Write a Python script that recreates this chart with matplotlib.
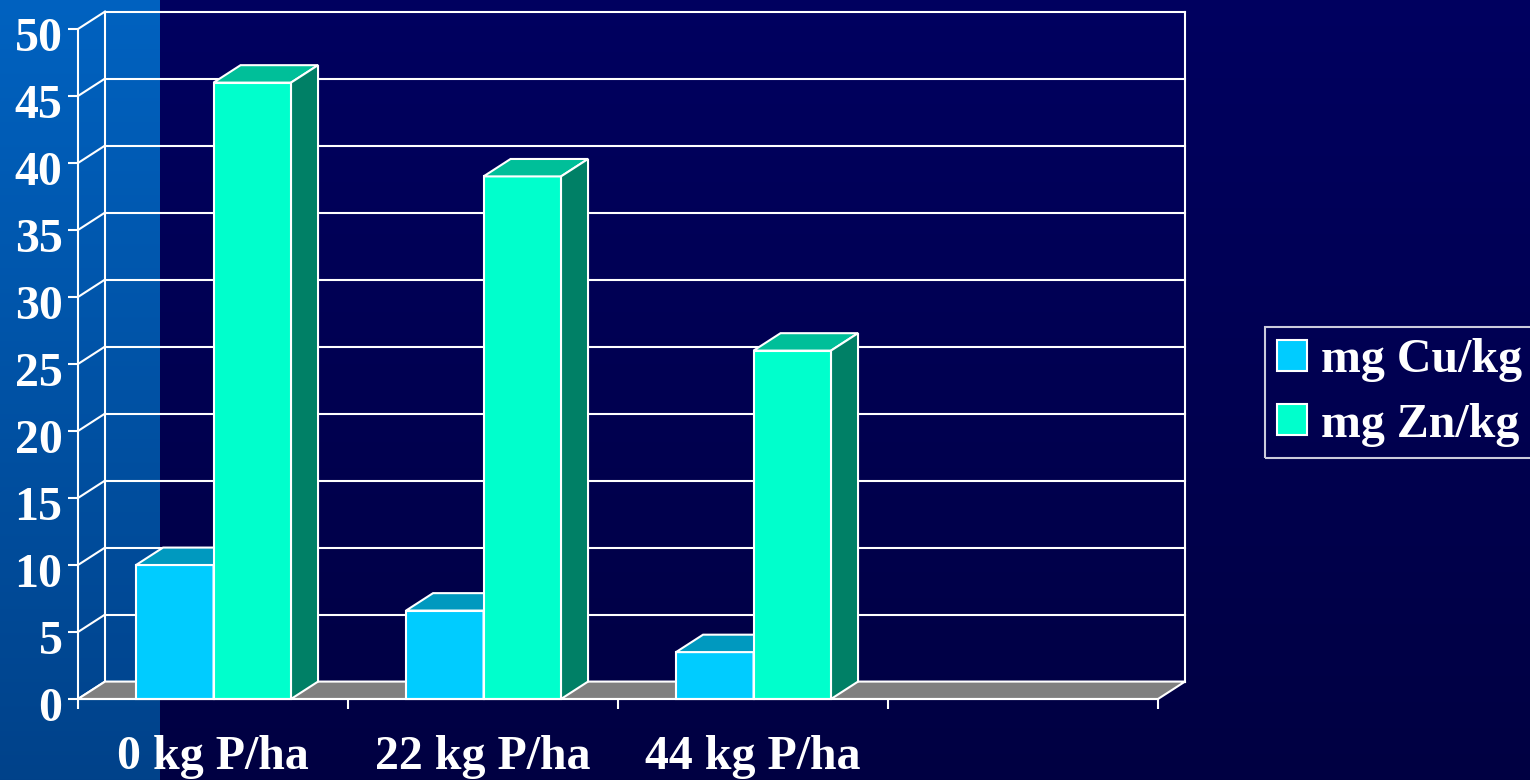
import numpy as np
import matplotlib.pyplot as plt
from matplotlib.patches import Patch
from matplotlib.transforms import ScaledTranslation

# soil micronutrient content by phosphorus rate
categories = ['0 kg P/ha', '22 kg P/ha', '44 kg P/ha']
cu = [10, 6.6, 3.5]
zn = [46, 39, 26]
series_names = ['mg Cu/kg', 'mg Zn/kg']
yticks = list(range(0, 55, 5))

# layout of the pseudo-3D box (data units)
n_slots = 4            # category axis keeps an empty fourth slot
dx, dy = 0.1, 1.3      # depth offset of the back wall
bar_w = 0.287
first = 0.215

cu_cols = ('#00CCFF', '#0099BF', '#007A99')
zn_cols = ('#00FFCC', '#00BF99', '#008066')
lw = 1.5
fs = 34.5

plt.rcParams['font.family'] = ['Liberation Serif', 'DejaVu Serif']
plt.rcParams['font.weight'] = 'bold'

fig = plt.figure(figsize=(15.3, 7.8), dpi=100)

# background: lighter blue strip at the left, navy elsewhere
bg = fig.add_axes([0, 0, 1, 1], zorder=-10)
H, W = 780, 1530
t = np.linspace(0, 1, H)[:, None, None]
navy_top, navy_bot = np.array([0, 0, 96]), np.array([0, 0, 66])
blue_top, blue_bot = np.array([0, 98, 192]), np.array([0, 66, 138])
img = np.zeros((H, W, 3))
img[:] = (navy_top + (navy_bot - navy_top) * t) / 255
img[:, :160] = (blue_top + (blue_bot - blue_top) * t) / 255
bg.imshow(img, aspect='auto', extent=[0, 1, 0, 1])
bg.axis('off')

ax = fig.add_axes([78 / W, 81 / H, 1080 / W, 670 / H])
ax.set_xlim(0, n_slots)
ax.set_ylim(0, 50)
ax.patch.set_alpha(0)
for s in ['top', 'right']:
    ax.spines[s].set_visible(False)
for s in ['left', 'bottom']:
    ax.spines[s].set_color('white')
    ax.spines[s].set_linewidth(lw)
    ax.spines[s].set_zorder(6)

ax.set_yticks(yticks)
ax.set_yticklabels([str(v) for v in yticks])
ax.set_xticks(range(n_slots + 1))
ax.set_xticklabels([])
ax.tick_params(colors='white', width=lw, length=7.2, direction='out',
               labelsize=fs, pad=4)
shift = ScaledTranslation(0, -5 / 100, fig.dpi_scale_trans)
for lab in ax.get_yticklabels():
    lab.set_transform(lab.get_transform() + shift)

# back wall grid, side wall diagonals
for v in yticks:
    ax.plot([dx, n_slots + dx], [v + dy] * 2, color='white', lw=lw, clip_on=False, zorder=1)
    ax.plot([0, dx], [v, v + dy], color='white', lw=lw, clip_on=False, zorder=1)
for xv in [dx, n_slots + dx]:
    ax.plot([xv, xv], [dy, 50 + dy], color='white', lw=lw, clip_on=False, zorder=1)

# floor
ax.fill([0, n_slots, n_slots + dx, dx], [0, 0, dy, dy], fc='#808080', ec='white',
        lw=lw, clip_on=False, zorder=2)


def bar3d(x0, v, cols, z):
    front, top, side = cols
    kw = dict(ec='white', lw=lw, clip_on=False, zorder=z, joinstyle='miter')
    ax.fill([x0, x0 + bar_w, x0 + bar_w, x0], [0, 0, v, v], fc=front, **kw)
    ax.fill([x0, x0 + bar_w, x0 + bar_w + dx, x0 + dx],
            [v, v, v + dy, v + dy], fc=top, **kw)
    ax.fill([x0 + bar_w, x0 + bar_w + dx, x0 + bar_w + dx, x0 + bar_w],
            [0, dy, v + dy, v], fc=side, **kw)


for i in range(len(categories)):
    bar3d(i + first, cu[i], cu_cols, 3)
    bar3d(i + first + bar_w, zn[i], zn_cols, 4)

for i, lab in enumerate(categories):
    ax.text(i + 0.5, -5.25, lab, color='white', fontsize=fs, ha='center', va='baseline',
            clip_on=False)

handles = [Patch(fc=cu_cols[0], ec='white', lw=lw), Patch(fc=zn_cols[0], ec='white', lw=lw)]
leg = fig.legend(handles, series_names, loc='upper left',
                 bbox_to_anchor=(1265 / W, (H - 327) / H), fontsize=fs,
                 handlelength=0.63, handleheight=0.63, handletextpad=0.3,
                 borderpad=0.24, labelspacing=0.42, borderaxespad=0,
                 frameon=True, fancybox=False, facecolor='none', edgecolor='white')
leg.get_frame().set_linewidth(lw)
for txt in leg.get_texts():
    txt.set_color('white')

fig.savefig('out.png', dpi=100)
